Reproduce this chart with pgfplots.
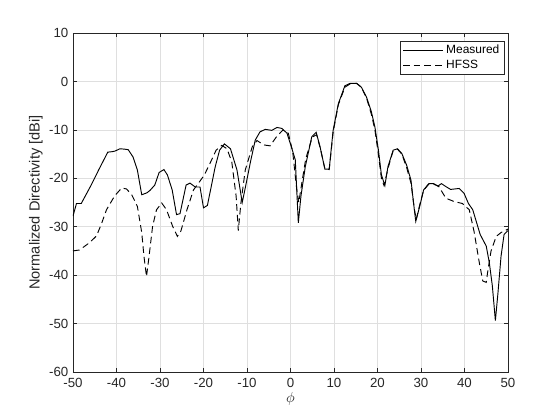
\documentclass[border=0pt]{standalone}
\usepackage{pgfplots}
\pgfplotsset{compat=1.18}
\usepackage{fontspec}
\setmainfont{Liberation Sans}
\definecolor{axcol}{RGB}{38,38,38}
\definecolor{gridcol}{RGB}{223,223,223}
\pgfplotstableread{
x y
-50 -27.8
-49.2 -25.2
-48.1 -25.2
-46 -21.7
-44 -18.1
-42 -14.6
-41 -14.5
-40.4 -14.4
-39.2 -13.9
-38 -14.0
-37.3 -14.1
-36.2 -15.6
-35.2 -18.3
-34.2 -23.4
-33 -23.0
-32.3 -22.5
-31.2 -21.4
-30.2 -18.8
-29.1 -18.2
-28.3 -19.3
-27.2 -22.4
-26.2 -27.5
-25.4 -27.3
-24 -21.4
-23.1 -21.0
-21.9 -21.8
-20.8 -21.8
-20 -26.1
-19.1 -25.6
-17.3 -17.6
-16.3 -14.2
-15.2 -12.9
-13.8 -13.9
-12.3 -18.3
-11.1 -25.0
-10.4 -22.0
-9.2 -16.6
-8.1 -12.1
-7 -10.4
-5.8 -9.9
-4.3 -10.1
-3.1 -9.5
-2 -9.7
-0.8 -10.7
0.3 -13.8
1.1 -16.2
1.8 -29.2
2.4 -23.7
3.4 -17.6
4.9 -11.4
5.9 -10.5
6.8 -13.5
7.9 -18.1
8.9 -18.1
9.8 -10.1
11 -4.6
12.5 -0.9
13.7 -0.4
15.2 -0.4
16.3 -1.2
17.5 -3.3
18.6 -6.3
19.4 -9.4
20.2 -14.1
20.9 -19.3
21.7 -21.5
22.4 -17.6
23.6 -14.2
24.6 -13.9
25.6 -14.9
26.7 -17.3
27.7 -20.4
28.3 -25.2
28.8 -28.9
29.7 -25.8
30.6 -22.4
31.8 -21.1
32.9 -21.1
33.9 -21.6
34.7 -21.1
35.7 -21.7
36.8 -22.3
38.8 -22.1
39.9 -23.1
40.9 -25.2
41.9 -26.5
42.6 -28.6
43.6 -31.6
45 -34.0
45.7 -37.4
46.4 -42.2
47.1 -49.4
47.7 -43.6
48.4 -36.1
49.1 -31.6
50 -30.8
}\measured
\pgfplotstableread{
x y
-50 -35.0
-48.5 -34.8
-46.2 -33.3
-44.6 -31.9
-43.5 -29.5
-42.3 -26.5
-40.4 -23.6
-38.8 -22.0
-37.7 -22.2
-36.5 -23.4
-35.2 -25.8
-34.2 -31.2
-33.7 -36.0
-33.1 -40.3
-32.5 -36.0
-31.7 -29.9
-30.8 -26.5
-29.6 -25.1
-28.5 -26.5
-27.1 -29.9
-26 -32.0
-25.2 -30.9
-23.8 -26.5
-22.3 -22.4
-20.9 -20.7
-19.8 -19.3
-18.5 -16.9
-17.1 -14.2
-15.8 -13.2
-14.6 -13.9
-13.5 -16.6
-12.5 -23.7
-12 -30.8
-11.4 -25.1
-10.4 -18.3
-8.8 -13.5
-7.7 -12.2
-6.2 -13.1
-4.7 -13.3
-3.2 -11.4
-1.7 -10.0
-0.5 -10.7
0.5 -14.5
1.4 -22.0
1.9 -25.0
2.6 -21.0
3.5 -16.0
5 -11.5
6 -11.0
6.9 -14.0
7.9 -18.0
8.9 -18.2
9.8 -10.5
11 -4.8
12.5 -1.2
13.7 -0.5
15.2 -0.4
16.3 -1.2
17.5 -3.5
18.6 -6.8
19.4 -10.0
20.2 -15.0
20.9 -20.0
21.5 -21.5
22.4 -18.0
23.6 -14.3
24.6 -14.0
25.6 -15.0
26.7 -17.8
27.7 -21.0
28.5 -26.5
28.9 -28.5
29.7 -25.5
30.6 -22.5
31.8 -21.2
32.9 -21.2
34.1 -21.7
35.7 -24.1
37.6 -24.8
39.5 -25.2
41.1 -26.5
42.2 -31.0
43.4 -37.4
44.2 -41.2
45 -41.5
45.3 -39.5
46.1 -35.0
47.3 -32.0
48.4 -31.2
50 -30.5
}\hfss
\begin{document}
\begin{tikzpicture}
\begin{axis}[
    at={(0,0)}, anchor=south west,
    scale only axis,
    width=326.25bp, height=254.25bp,
    xmin=-50, xmax=50, ymin=-60, ymax=10,
    xtick={-50,-40,...,50},
    ytick={-60,-50,...,10},
    xticklabels={-50,-40,-30,-20,-10,0,10,20,30,40,50},
    yticklabels={-60,-50,-40,-30,-20,-10,0,10},
    tick align=inside, tick pos=both,
    major tick length=3.3bp,
    tick style={axcol, line width=0.4pt},
    axis line style={axcol, line width=0.5pt},
    grid=major,
    grid style={gridcol, line width=0.5pt},
    tick label style={font=\fontsize{10}{12}\selectfont, text=axcol},
    xticklabel style={yshift=-1bp},
    xlabel={$\phi$},
    ylabel={Normalized Directivity [dBi]},
    label style={font=\fontsize{11}{13}\selectfont, text=axcol},
    xlabel style={yshift=3bp},
    ylabel style={yshift=-2bp},
    legend style={at={(1,1)}, anchor=north east, xshift=-2.25bp, yshift=-6bp,
        font=\fontsize{9}{10}\selectfont, draw=axcol, line width=0.5pt,
        inner xsep=2bp, inner ysep=1bp, row sep=-1bp},
    legend cell align=left,
    legend image code/.code={\draw[#1] (0bp,0bp) -- (30bp,0bp);},
]
\addplot[black, line width=0.7bp] table[x=x, y=y] {\measured};
\addplot[black, line width=0.7bp, dash pattern=on 5bp off 3bp] table[x=x, y=y] {\hfss};
\legend{Measured, HFSS}
\end{axis}
\pgfresetboundingbox
\path[use as bounding box] (-54.75bp,-36bp) rectangle (365.25bp,279bp);
\end{tikzpicture}
\end{document}
